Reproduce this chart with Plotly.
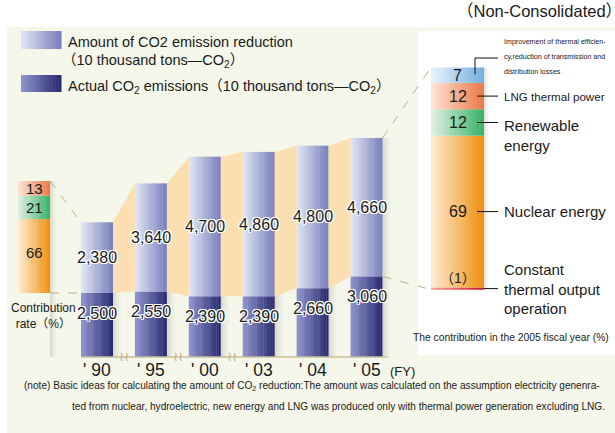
import plotly.graph_objects as go

# ---------------- data ----------------
years = ["' 90", "' 95", "' 00", "' 03", "' 04", "' 05"]
actual_emissions = [2500, 2550, 2390, 2390, 2660, 3060]
emission_reduction = [2380, 3640, 4700, 4860, 4800, 4660]

rate_names = ["Nuclear", "Renewable", "LNG"]          # bottom -> top (contribution rate, %)
rate_values = [66, 21, 13]

contrib_names = ["Constant", "Nuclear", "Renewable", "LNG", "Thermal"]   # bottom -> top (FY2005, %)
contrib_values = [-1, 69, 12, 12, 7]
contrib_labels = ["（1）", "69", "12", "12", "7"]

# ---------------- styling / layout constants ----------------
W, H = 615, 433
X_PX0, X_STEP = 97.0, 53.9          # pixel of category 0, pixels per category
BASE_PX = 357.0                     # baseline pixel row
Y_FLOOR, Y_SCALE = 345.0, 0.0297    # main axis value at baseline, px per unit
ZERO2_PX, S2 = 287.5, 2.2           # right contribution bar
ZERO3_PX, S3 = 293.0, 1.12          # left contribution bar
BAR_W = 32 / X_STEP
LEFT_X = (34 - X_PX0) / X_STEP
RIGHT_X = (457.5 - X_PX0) / X_STEP
RIGHT_W = 53 / X_STEP

FONT = "Liberation Sans, Arial, Noto Sans CJK JP, sans-serif"
NARROW = "Liberation Sans Narrow, Liberation Sans, Arial, Noto Sans CJK JP, sans-serif"
HALO = "1px 1px 0 #fff, -1px -1px 0 #fff, 1px -1px 0 #fff, -1px 1px 0 #fff, 0 1px 0 #fff, 0 -1px 0 #fff, 1px 0 0 #fff, -1px 0 0 #fff"
INK = "#1a1a1a"

GRAD = {
    "light": ("#dfe3f3", "#7980bd"),
    "dark": ("#8c92ca", "#2b2c72"),
    "Nuclear": ("#fdeacf", "#ef9212"),
    "Renewable": ("#dcefe0", "#3bb36a"),
    "LNG": ("#fde1d3", "#ec7b4c"),
    "Thermal": ("#e4f1fb", "#76b0df"),
    "Constant": ("#f3a58e", "#cd1026"),
}


def xp(px):
    return px / W


def yp(py):
    return 1 - py / H


def ypx_main(v):
    return BASE_PX - (v - Y_FLOOR) * Y_SCALE


def ypx2(v):
    return ZERO2_PX - v * S2


def ypx3(v):
    return ZERO3_PX - v * S3


def xpx(x):
    return X_PX0 + x * X_STEP


def hex2rgb(h):
    h = h.lstrip("#")
    return tuple(int(h[i:i + 2], 16) for i in (0, 2, 4))


def lerp(c0, c1, t):
    a, b = hex2rgb(c0), hex2rgb(c1)
    return "rgb(%d,%d,%d)" % tuple(round(a[i] + (b[i] - a[i]) * t) for i in range(3))


def grad_bars(xs, ys, bases, width, keys, yaxis, n=14):
    out = []
    for k in range(n):
        t = k / (n - 1)
        cols = [lerp(GRAD[key][0], GRAD[key][1], t) for key in keys]
        wk = width / n * (1.0 if k == n - 1 else 1.15)
        out.append(go.Bar(x=xs, y=ys, base=bases, width=wk, offset=-width / 2 + k * width / n,
                          marker=dict(color=cols, line=dict(width=0)), yaxis=yaxis,
                          showlegend=False, hoverinfo="skip"))
    return out


def shadow_bars(xs, tops, bases, width, yaxis, sw):
    out = []
    alphas = [0.22, 0.14, 0.08, 0.035]
    for k, a in enumerate(alphas):
        out.append(go.Bar(x=xs, y=[t - b for t, b in zip(tops, bases)], base=bases, width=sw / len(alphas),
                          offset=width / 2 + k * sw / len(alphas),
                          marker=dict(color="rgba(120,120,100,%.3f)" % a, line=dict(width=0)),
                          yaxis=yaxis, showlegend=False, hoverinfo="skip"))
    return out


def txt(x, y, text, size, family=FONT, xanchor="center", yanchor="middle", xref="paper", yref="paper",
        align="center", shadow=None, color=INK):
    f = dict(family=family, size=size, color=color)
    if shadow:
        f["shadow"] = shadow
    return dict(x=x, y=y, xref=xref, yref=yref, text=text, showarrow=False, xanchor=xanchor,
                yanchor=yanchor, align=align, font=f)


xs = list(range(len(years)))
totals = [a + r for a, r in zip(actual_emissions, emission_reduction)]

fig = go.Figure()

# orange band linking reduction segments
bx, by = [], []
for i in range(len(xs) - 1):
    bx += [i + BAR_W / 2, i + 1 - BAR_W / 2, i + 1 - BAR_W / 2, i + BAR_W / 2, None]
    by += [totals[i], totals[i + 1], actual_emissions[i + 1], actual_emissions[i], None]
fig.add_trace(go.Scatter(x=bx, y=by, fill="toself", fillcolor="#fbdfb1", mode="lines",
                         line=dict(width=0), showlegend=False, hoverinfo="skip"))

# main bars
for tr in shadow_bars(xs, totals, [0] * len(xs), BAR_W, "y", 8 / X_STEP):
    fig.add_trace(tr)
for tr in grad_bars(xs, actual_emissions, [0] * len(xs), BAR_W, ["dark"] * len(xs), "y"):
    fig.add_trace(tr)
for tr in grad_bars(xs, emission_reduction, actual_emissions, BAR_W, ["light"] * len(xs), "y"):
    fig.add_trace(tr)

# left contribution rate bar
rate_bases = [sum(rate_values[:i]) for i in range(len(rate_values))]
for tr in shadow_bars([LEFT_X], [sum(rate_values)], [-60], BAR_W, "y3", 6 / X_STEP):
    fig.add_trace(tr)
for tr in grad_bars([LEFT_X] * 3, rate_values, rate_bases, BAR_W, rate_names, "y3"):
    fig.add_trace(tr)

# right contribution bar (FY2005)
cb, acc = [], 0
for v in contrib_values:
    if v < 0:
        cb.append(0)
    else:
        cb.append(acc)
        acc += v
for tr in shadow_bars([RIGHT_X], [acc], [min(contrib_values)], RIGHT_W, "y2", 5 / X_STEP):
    fig.add_trace(tr)
for tr in grad_bars([RIGHT_X] * len(contrib_values), contrib_values, cb, RIGHT_W, contrib_names, "y2"):
    fig.add_trace(tr)

shapes = []
# background panel and white box
shapes.append(dict(type="rect", xref="paper", yref="paper", x0=xp(7), x1=1.0, y0=0, y1=yp(27),
                   fillcolor="#f5f7eb", line=dict(width=0), layer="below"))
shapes.append(dict(type="rect", xref="paper", yref="paper", x0=xp(418), x1=1.0, y0=yp(355), y1=yp(31),
                   fillcolor="#ffffff", line=dict(width=0), layer="below"))
# baseline
shapes.append(dict(type="line", xref="x", yref="paper", x0=-BAR_W / 2, x1=xs[-1] + BAR_W / 2 + 0.1,
                   y0=yp(BASE_PX), y1=yp(BASE_PX), line=dict(color="#cdbd9c", width=1.5)))
# dashed connectors
DASH = dict(color="#bfae8c", width=1, dash="dash")
shapes.append(dict(type="line", xref="paper", yref="paper",
                   x0=xp(xpx(LEFT_X + BAR_W / 2)), y0=yp(ypx3(sum(rate_values))),
                   x1=xp(xpx(-BAR_W / 2)), y1=yp(ypx_main(totals[0])), line=DASH))
shapes.append(dict(type="line", xref="paper", yref="paper",
                   x0=xp(xpx(LEFT_X + BAR_W / 2)), y0=yp(ypx3(0)),
                   x1=xp(xpx(-BAR_W / 2)), y1=yp(ypx_main(actual_emissions[0])), line=DASH))
shapes.append(dict(type="line", xref="paper", yref="paper",
                   x0=xp(xpx(xs[-1] + BAR_W / 2)), y0=yp(ypx_main(totals[-1])),
                   x1=xp(xpx(RIGHT_X - RIGHT_W / 2)), y1=yp(ypx2(acc)), line=DASH))
shapes.append(dict(type="line", xref="paper", yref="paper",
                   x0=xp(xpx(xs[-1] + BAR_W / 2)), y0=yp(ypx_main(actual_emissions[-1])),
                   x1=xp(xpx(RIGHT_X - RIGHT_W / 2)), y1=yp(ypx2(min(contrib_values))), line=DASH))

# legend swatches
for (y0, y1, key) in [(31, 49, "light"), (75, 92, "dark")]:
    n = 14
    for k in range(n):
        shapes.append(dict(type="rect", xref="paper", yref="paper",
                           x0=xp(21 + 40 * k / n), x1=xp(21 + 40 * (k + 1) / n + 0.5),
                           y0=yp(y1), y1=yp(y0), line=dict(width=0),
                           fillcolor=lerp(GRAD[key][0], GRAD[key][1], k / (n - 1))))

# leader lines for right bar
LEAD = dict(color="#111", width=1)
bar_r = xpx(RIGHT_X + RIGHT_W / 2)
mid = {name: (cb[i] + contrib_values[i] / 2) for i, name in enumerate(contrib_names)}
label_x = 498
shapes.append(dict(type="line", xref="paper", yref="paper", x0=xp(bar_r - 9), x1=xp(bar_r - 9),
                   y0=yp(ypx2(mid["Thermal"]) - 1), y1=yp(58), line=LEAD))
shapes.append(dict(type="line", xref="paper", yref="paper", x0=xp(bar_r - 9), x1=xp(label_x),
                   y0=yp(58), y1=yp(58), line=LEAD))
for name in ["LNG", "Renewable", "Nuclear"]:
    yy = ypx2(mid[name])
    shapes.append(dict(type="line", xref="paper", yref="paper", x0=xp(bar_r - 7), x1=xp(label_x),
                       y0=yp(yy), y1=yp(yy), line=LEAD))
yy = ypx2(mid["Constant"])
shapes.append(dict(type="line", xref="paper", yref="paper", x0=xp(bar_r), x1=xp(label_x),
                   y0=yp(yy), y1=yp(yy), line=LEAD))

ann = []
# bar value labels
for i in xs:
    ann.append(txt(i, actual_emissions[i] + emission_reduction[i] / 2, f"{emission_reduction[i]:,}", 16,
                   xref="x", yref="y", shadow=HALO))
    ann.append(txt(i, actual_emissions[i] - 20 / Y_SCALE, f"{actual_emissions[i]:,}", 16,
                   xref="x", yref="y", shadow=HALO))
    ann.append(txt(i, yp(370), years[i], 17.5, xref="x"))
for i in range(3):
    ann.append(txt(i + 0.5, yp(BASE_PX - 1), "≀≀", 13, family="DejaVu Sans", xref="x", color="#c3ad84"))
ann.append(txt(xp(388), yp(371), "(FY)", 13, xanchor="left"))

# left bar labels
for i, v in enumerate(rate_values):
    yv = rate_bases[i] + v / 2 + (3 if v > 50 else 0)
    ann.append(txt(LEFT_X, yv, str(v), 15, xref="x", yref="y3"))
ann.append(txt(xp(43), yp(316), "Contribution<br>rate（%）", 12, family=NARROW))

# right bar labels
for i, v in enumerate(contrib_values):
    if v < 0:
        ann.append(txt(RIGHT_X, 0, contrib_labels[i], 14, xref="x", yref="y2", yanchor="bottom"))
    else:
        ann.append(txt(RIGHT_X, cb[i] + v / 2, contrib_labels[i], 16, xref="x", yref="y2"))

lx = xp(502)
for k, line in enumerate(["Improvement of thermal efficien-", "cy,reduction of transmission and",
                          "distribution losses"]):
    ann.append(txt(lx, yp(42 + 15 * k), line, 7.1, family=NARROW, xanchor="left"))
ann.append(txt(lx, yp(ypx2(mid["LNG"])), "LNG thermal power", 11.6, family=NARROW, xanchor="left"))
ann.append(txt(lx, yp(ypx2(mid["Renewable"]) - 8), "Renewable<br>energy", 15, xanchor="left",
               yanchor="top", align="left"))
ann.append(txt(lx, yp(ypx2(mid["Nuclear"])), "Nuclear energy", 15, xanchor="left"))
ann.append(txt(lx, yp(ypx2(mid["Constant"])), "Constant<br>thermal output<br>operation", 15,
               xanchor="left", align="left"))
ann.append(txt(xp(611), yp(337), "The contribution in the 2005 fiscal year (%)", 10.3, family=NARROW,
               xanchor="right"))

# legend text
ann.append(txt(xp(66), yp(42), "Amount of CO2 emission reduction", 14.5, xanchor="left"))
ann.append(txt(xp(60), yp(61), "（10 thousand tons—CO<sub>2</sub>）", 14.5, xanchor="left"))
ann.append(txt(xp(66), yp(87), "Actual CO<sub>2</sub> emissions（10 thousand tons—CO<sub>2</sub>）", 14.5,
               xanchor="left"))
ann.append(txt(xp(624), yp(11), "（Non-Consolidated）", 16.5, xanchor="right"))

# footnote
ann.append(txt(xp(22), yp(386),
               "(note) Basic ideas for calculating the amount of CO<sub>2</sub> reduction:The amount was calculated on the assumption electricity genenra-",
               10.1, family=NARROW, xanchor="left"))
ann.append(txt(xp(70), yp(406),
               "ted from nuclear, hydroelectric, new energy and LNG was produced only with thermal power generation excluding LNG.",
               10.1, family=NARROW, xanchor="left"))

dom = [(H - BASE_PX) / H, 1.0]
fig.update_layout(
    width=W, height=H, margin=dict(l=0, r=0, t=0, b=0),
    paper_bgcolor="#ffffff", plot_bgcolor="rgba(0,0,0,0)",
    barmode="overlay", showlegend=False,
    xaxis=dict(range=[-X_PX0 / X_STEP, (W - X_PX0) / X_STEP], domain=[0, 1], visible=False, fixedrange=True),
    yaxis=dict(range=[Y_FLOOR, Y_FLOOR + BASE_PX / Y_SCALE], domain=dom, visible=False, fixedrange=True),
    yaxis2=dict(range=[-(BASE_PX - ZERO2_PX) / S2, ZERO2_PX / S2], overlaying="y", visible=False),
    yaxis3=dict(range=[-(BASE_PX - ZERO3_PX) / S3, ZERO3_PX / S3], overlaying="y", visible=False),
    shapes=shapes, annotations=ann,
)
fig.write_html("out.html", config={"displayModeBar": False},
               post_script="document.body.style.margin='0';document.body.style.overflow='hidden';")
